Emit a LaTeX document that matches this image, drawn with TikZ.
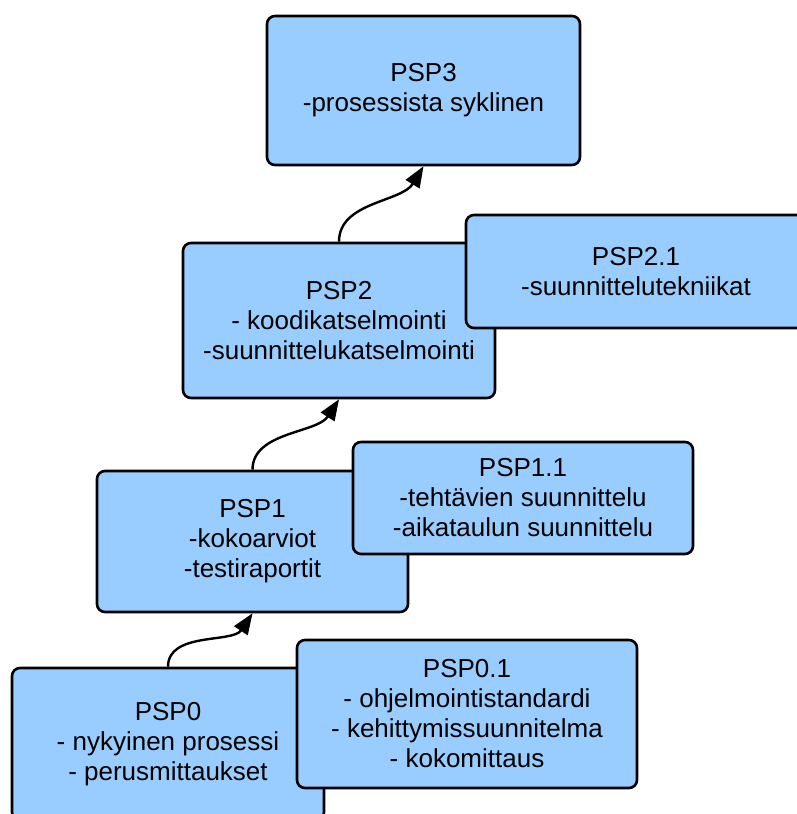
\documentclass[tikz,border=0pt]{standalone}
\usepackage{fontspec}
\setmainfont{Liberation Sans}
\usetikzlibrary{arrows.meta}
\definecolor{boxblue}{RGB}{153,204,255}
\tikzset{
  stage/.style={draw=black, fill=boxblue, line width=2.6pt, rounded corners=8pt,
    align=center, inner sep=0pt, font=\fontsize{26}{30}\selectfont},
  flow/.style={line width=2.4pt, -{Triangle[length=21pt,width=16pt]}}
}
\begin{document}
\begin{tikzpicture}[x=1pt,y=-1pt]
  \useasboundingbox (0,0) rectangle (797,814);
  \clip (0,0) rectangle (797,814);

  % level 3
  \node[stage, minimum width=313pt, minimum height=149pt] (p3) at (423.5,90.5)
    {PSP3\\-prosessista syklinen};

  % level 2 and its addition
  \node[stage, minimum width=312pt, minimum height=155pt] (p2) at (339,320.5)
    {PSP2\\- koodikatselmointi\\-suunnittelukatselmointi};
  \node[stage, minimum width=340pt, minimum height=113pt] (p21) at (636,271.5)
    {PSP2.1\\-suunnittelutekniikat};

  % level 1 and its addition
  \node[stage, minimum width=311pt, minimum height=141pt] (p1) at (252.5,541.5)
    {PSP1\\-kokoarviot\\-testiraportit};
  \node[stage, minimum width=340pt, minimum height=112pt] (p11) at (523,498)
    {PSP1.1\\-tehtävien suunnittelu\\-aikataulun suunnittelu};

  % level 0 and its addition
  \node[stage, minimum width=312pt, minimum height=152pt] (p0) at (168,744)
    {PSP0\\- nykyinen prosessi\\- perusmittaukset};
  \node[stage, minimum width=340pt, minimum height=148pt] (p01) at (467,714)
    {PSP0.1\\- ohjelmointistandardi\\- kehittymissuunnitelma\\- kokomittaus};

  % progression between levels
  \draw[flow] (p0.north) .. controls +(0,-35) and +(-20,30) .. (p1.south);
  \draw[flow] (p1.north) .. controls +(0,-38) and +(-22,34) .. (p2.south);
  \draw[flow] (p2.north) .. controls +(0,-40) and +(-22,36) .. (p3.south);
\end{tikzpicture}
\end{document}
